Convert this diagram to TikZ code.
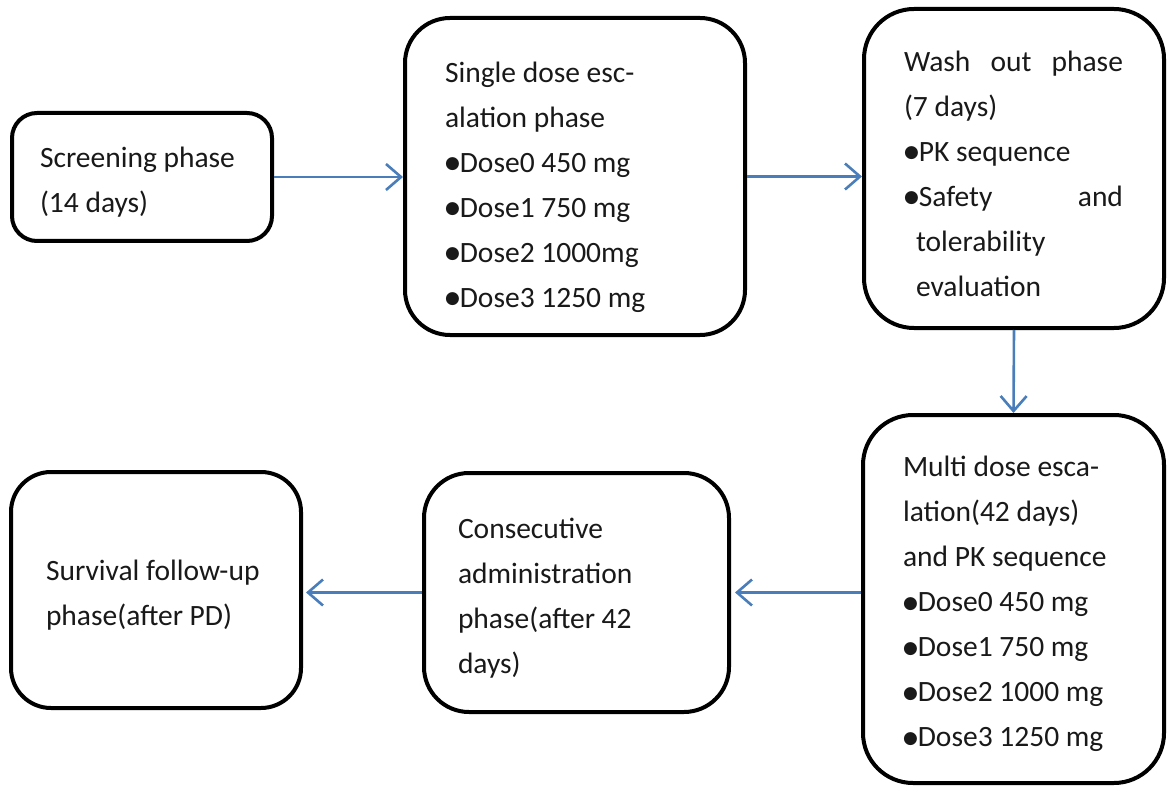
\documentclass[tikz,border=0pt]{standalone}
\usepackage{fontspec}
\setmainfont{Carlito}
\newfontfamily\dejavu{DejaVu Sans}
\usetikzlibrary{arrows.meta}
\definecolor{arrowblue}{RGB}{74,126,187}
\newcommand\blt{\raisebox{3.5pt}{\dejavu\fontsize{17}{17}\selectfont ●}}
\newcommand\firstpad[1]{\rule{0pt}{#1}}
\tikzset{
  phasebox/.style={draw=black, line width=4pt, fill=white, align=flush left,
    font=\fontsize{29.5}{45}\selectfont, text=black!90},
  flowarrow/.style={draw=arrowblue, line width=2.6pt,
    -{Straight Barb[length=15pt,width=26pt,line width=2.6pt]}}
}
\begin{document}
\begin{tikzpicture}[x=1pt,y=-1pt]
\useasboundingbox (0,0) rectangle (1167,786);
\node[phasebox, rounded corners=25pt, minimum width=260pt, minimum height=128pt,
  text width=204pt, inner xsep=28pt] (screen) at (142,177)
  {\firstpad{31pt}Screening phase\\(14 days)};
\node[phasebox, rounded corners=45pt, minimum width=340pt, minimum height=317pt,
  text width=260pt, inner xsep=40pt] (single) at (575,176.5)
  {\firstpad{42pt}Single dose esc-\\alation phase\\\blt Dose0 450 mg\\\blt Dose1 750 mg\\\blt Dose2 1000mg\\\blt Dose3 1250 mg};
\node[phasebox, rounded corners=50pt, minimum width=300pt, minimum height=319pt,
  text width=220pt, inner xsep=40pt] (wash) at (1014,168.5)
  {\firstpad{31pt}\makebox[219pt]{Wash\hfill out\hfill phase}\\(7 days)\\\blt PK sequence\\\makebox[219pt]{\blt Safety\hfill and}\\\hspace*{12pt}tolerability\\\hspace*{12pt}evaluation};
\node[phasebox, rounded corners=50pt, minimum width=301pt, minimum height=368pt,
  text width=221pt, inner xsep=40pt] (multi) at (1013.5,599)
  {\firstpad{31pt}Multi dose esca-\\lation(42 days)\\and PK sequence\\\blt Dose0 450 mg\\\blt Dose1 750 mg\\\blt Dose2 1000 mg\\\blt Dose3 1250 mg};
\node[phasebox, rounded corners=45pt, minimum width=305pt, minimum height=239pt,
  text width=237pt, inner xsep=34pt] (consec) at (576.5,592.5)
  {\firstpad{32pt}Consecutive\\administration\\phase(after 42\\days)};
\node[phasebox, rounded corners=40pt, minimum width=290pt, minimum height=236pt,
  text width=220pt, inner xsep=35pt] (surv) at (156,590)
  {\firstpad{31pt}Survival follow-up\\phase(after PD)};
\draw[flowarrow] (screen.east) -- (single.west |- screen.east);
\draw[flowarrow] (single.east) -- (wash.west |- single.east);
\draw[flowarrow] (wash.south) -- (multi.north);
\draw[flowarrow, shorten >=4pt] (multi.west |- consec.east) -- (consec.east);
\draw[flowarrow, shorten >=3pt] (consec.west) -- (surv.east |- consec.west);
\end{tikzpicture}
\end{document}
